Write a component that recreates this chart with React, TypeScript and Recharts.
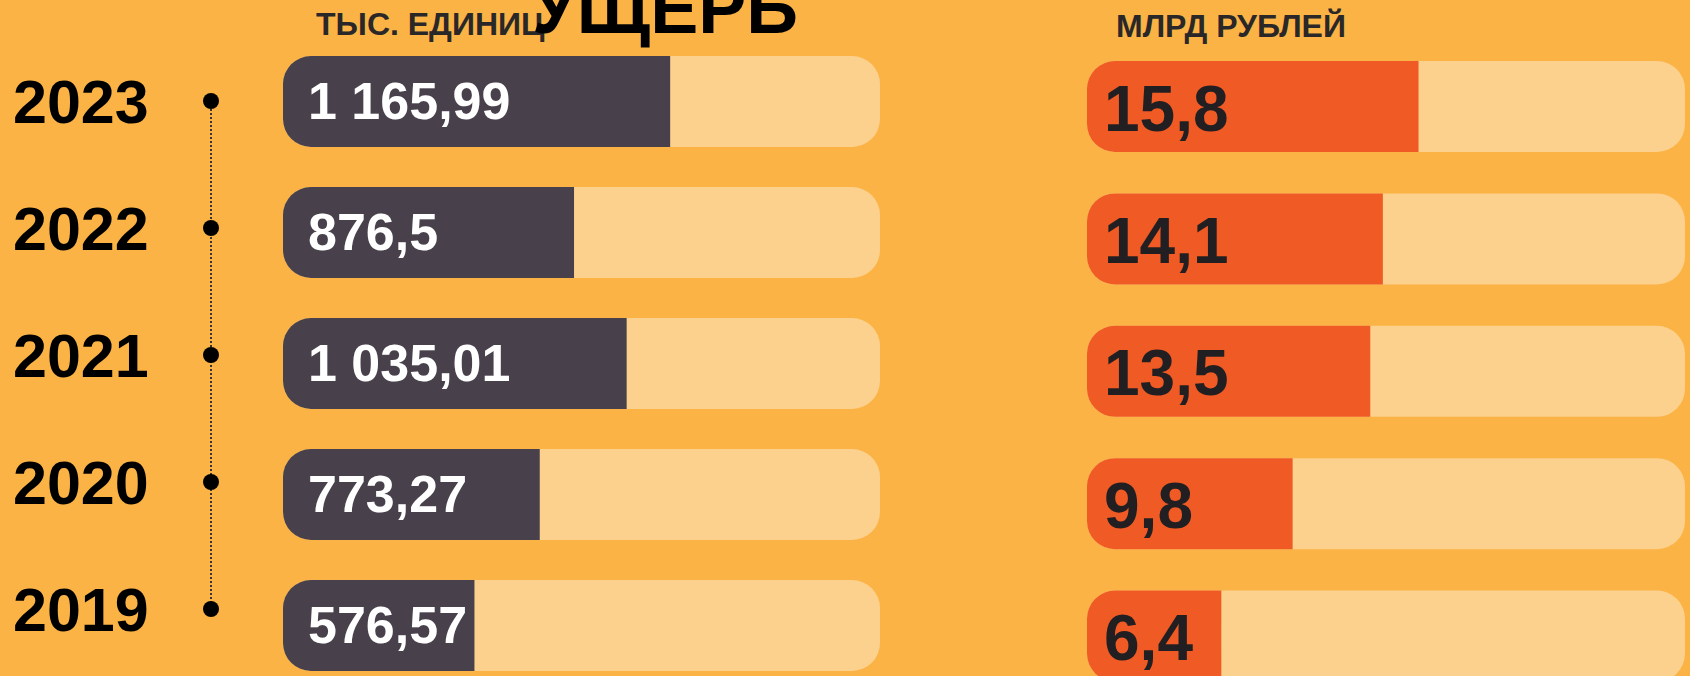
import React from "react";
import { Bar, BarChart, LabelList, LineChart, XAxis, YAxis } from "recharts";

// годы (сверху вниз)
const years = ["2023", "2022", "2021", "2020", "2019"];
// количество, тыс. единиц
const units = [1165.99, 876.5, 1035.01, 773.27, 576.57];
// ущерб, млрд рублей
const damage = [15.8, 14.1, 13.5, 9.8, 6.4];

const unitsData = years.map((year, i) => ({ year, units: units[i] }));
const damageData = years.map((year, i) => ({ year, damage: damage[i] }));

const FONT = '"Liberation Sans", Arial, sans-serif';
const BG = "#FBB345";
const TRACK = "#FCD08D";
const DARK = "#48404B";
const ORANGE = "#F05A24";
const INK = "#221F22";

// 1165.99 -> "1 165,99"
function ruNumber(v: number) {
  const [int, frac] = String(v).split(".");
  const grouped = int.replace(/\B(?=(\d{3})+(?!\d))/g, " ");
  return frac ? `${grouped},${frac}` : grouped;
}

function YearTick(props: any) {
  const { x, y, payload } = props;
  return (
    <g>
      <circle cx={x} cy={y} r={8} fill="#000" />
      <text x={13} y={y + 22} fill="#000" fontFamily={FONT} fontWeight={700} fontSize={61}>
        {payload.value}
      </text>
    </g>
  );
}

function makeLabel(color: string, size: number, dx: number, dy: number) {
  return (props: any) => {
    const { x, y, height, value } = props;
    return (
      <text
        x={x + dx}
        y={y + height / 2 + dy}
        fill={color}
        fontFamily={FONT}
        fontWeight={700}
        fontSize={size}
      >
        {ruNumber(value)}
      </text>
    );
  };
}

const abs: React.CSSProperties = { position: "absolute", left: 0, top: 0 };

const caption: React.CSSProperties = {
  position: "absolute",
  fontSize: 32,
  lineHeight: 1,
  fontWeight: 700,
  color: "#2A2729",
  whiteSpace: "nowrap",
};

export default function App() {
  return (
    <div
      style={{
        position: "absolute",
        left: 0,
        top: 0,
        width: 1690,
        height: 676,
        overflow: "hidden",
        background: BG,
        fontFamily: FONT,
      }}
    >
      {/* шкала лет */}
      <div style={abs}>
        <LineChart
          layout="vertical"
          width={240}
          height={676}
          data={unitsData}
          margin={{ top: 101, right: 0, bottom: 67, left: 0 }}
        >
          <XAxis type="number" hide domain={[0, 1]} />
          <YAxis
            type="category"
            dataKey="year"
            scale="point"
            width={211}
            tickLine={false}
            tickSize={0}
            tickMargin={0}
            axisLine={{ stroke: "#3a3434", strokeWidth: 2, strokeDasharray: "2 2" }}
            tick={<YearTick />}
            interval={0}
          />
        </LineChart>
      </div>

      {/* тыс. единиц */}
      <div style={abs}>
        <BarChart
          layout="vertical"
          width={1690}
          height={691}
          data={unitsData}
          margin={{ top: 36, right: 810, bottom: 0, left: 283 }}
        >
          <XAxis type="number" hide domain={[0, 1798]} />
          <YAxis type="category" dataKey="year" hide width={0} />
          <Bar
            dataKey="units"
            barSize={91}
            fill={DARK}
            radius={[28, 0, 0, 28]}
            background={{ fill: TRACK, radius: 28 }}
            isAnimationActive={false}
          >
            <LabelList dataKey="units" content={makeLabel("#fff", 52, 25, 17)} />
          </Bar>
        </BarChart>
      </div>

      {/* млрд рублей */}
      <div style={abs}>
        <BarChart
          layout="vertical"
          width={1690}
          height={705}
          data={damageData}
          margin={{ top: 40, right: 5, bottom: 3, left: 1087 }}
        >
          <XAxis type="number" hide domain={[0, 28.5]} />
          <YAxis type="category" dataKey="year" hide width={0} />
          <Bar
            dataKey="damage"
            barSize={91}
            fill={ORANGE}
            radius={[28, 0, 0, 28]}
            background={{ fill: TRACK, radius: 28 }}
            isAnimationActive={false}
          >
            <LabelList dataKey="damage" content={makeLabel(INK, 64, 17, 24)} />
          </Bar>
        </BarChart>
      </div>

      <div style={{ ...caption, left: 316, top: 8 }}>ТЫС. ЕДИНИЦ</div>
      <div style={{ ...caption, left: 1116, top: 10 }}>МЛРД РУБЛЕЙ</div>
      <div
        style={{
          position: "absolute",
          left: 532,
          top: -28,
          fontSize: 72,
          lineHeight: 1,
          fontWeight: 700,
          color: "#000",
          whiteSpace: "nowrap",
        }}
      >
        УЩЕРБ
      </div>
    </div>
  );
}
